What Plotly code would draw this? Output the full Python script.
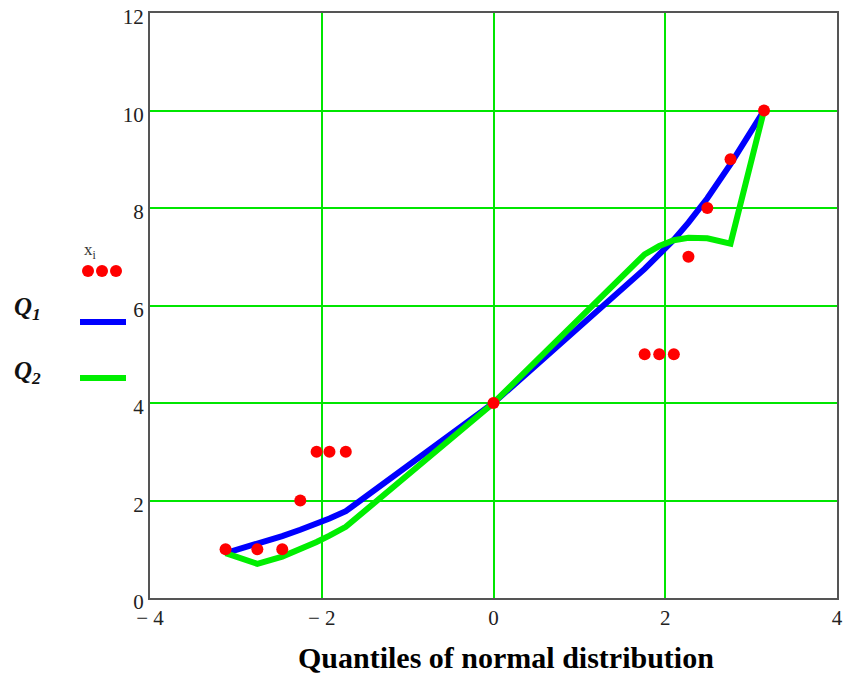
import plotly.graph_objects as go

# Data
xq = [-3.12, -2.75, -2.46, -2.25, -2.06, -1.91, -1.72, 0.0, 1.76, 1.93, 2.10, 2.27, 2.49, 2.76, 3.15]
xi = [1, 1, 1, 2, 3, 3, 3, 4, 5, 5, 5, 7, 8, 9, 10]
q1 = [0.92, 1.10, 1.27, 1.40, 1.52, 1.63, 1.78, 4.0, 6.75, 7.05, 7.35, 7.70, 8.20, 8.90, 10.0]
q2 = [0.92, 0.70, 0.85, 1.00, 1.15, 1.28, 1.46, 4.0, 7.05, 7.22, 7.34, 7.39, 7.38, 7.27, 10.0]

x_ticks = [-4, -2, 0, 2, 4]
x_tick_text = ["\u2212 4", "\u2212 2", "0", "2", "4"]
y_ticks = [0, 2, 4, 6, 8, 10, 12]

GRID = "#00e600"
fig = go.Figure()
fig.add_trace(go.Scatter(x=xq, y=q1, mode="lines", line=dict(color="#0000ff", width=6), name="Q1"))
fig.add_trace(go.Scatter(x=xq, y=q2, mode="lines", line=dict(color="#00ee00", width=6), name="Q2"))
fig.add_trace(go.Scatter(x=xq, y=xi, mode="markers", marker=dict(color="#ff0000", size=12), name="xi"))

# page body adds an 8px margin; figure is sized to compensate
OFF = 8
W, H = 853 - OFF, 679 - OFF
SL, ST, SR, SB = 150, 13, 837, 598  # plot area in screen pixels
L, T = SL - OFF, ST - OFF
R = W - (SR - OFF)
B = H - (SB - OFF)
pw, ph = SR - SL, SB - ST


def px(x):
    return (x - SL) / pw


def py(y):
    return (SB - y) / ph


shapes = []
annotations = []
# legend: red dots
for cx in [88, 102, 116]:
    shapes.append(dict(type="circle", xref="paper", yref="paper",
                       x0=px(cx - 6), x1=px(cx + 6), y0=py(277), y1=py(265),
                       fillcolor="#ff0000", line=dict(width=0)))
shapes.append(dict(type="line", xref="paper", yref="paper", x0=px(80), x1=px(126), y0=py(322), y1=py(322),
                   line=dict(color="#0000ff", width=6)))
shapes.append(dict(type="line", xref="paper", yref="paper", x0=px(80), x1=px(126), y0=py(378), y1=py(378),
                   line=dict(color="#00ee00", width=6)))
annotations.append(dict(xref="paper", yref="paper", x=px(90), y=py(251), text="x<sub>i</sub>", showarrow=False,
                        xanchor="center", yanchor="middle",
                        font=dict(family="Liberation Serif", size=17, color="#333")))
annotations.append(dict(xref="paper", yref="paper", x=px(27), y=py(308), text="<b><i>Q<sub>1</sub></i></b>",
                        showarrow=False, xanchor="center", yanchor="middle",
                        font=dict(family="Liberation Serif", size=25, color="#111")))
annotations.append(dict(xref="paper", yref="paper", x=px(27), y=py(372), text="<b><i>Q<sub>2</sub></i></b>",
                        showarrow=False, xanchor="center", yanchor="middle",
                        font=dict(family="Liberation Serif", size=25, color="#111")))
annotations.append(dict(xref="paper", yref="paper", x=px(506), y=py(657), text="<b>Quantiles of normal distribution</b>",
                        showarrow=False, xanchor="center", yanchor="middle",
                        font=dict(family="Liberation Serif", size=30, color="#000")))

fig.update_layout(
    width=W, height=H,
    margin=dict(l=L, r=R, t=T, b=B, autoexpand=False),
    plot_bgcolor="white", paper_bgcolor="white",
    showlegend=False,
    shapes=shapes, annotations=annotations,
    font=dict(family="Liberation Serif", size=21, color="#222"),
)
fig.update_xaxes(range=[-4, 4], tickvals=x_ticks, ticktext=x_tick_text, showgrid=True, gridcolor=GRID, gridwidth=2,
                 zeroline=False, showline=True, linecolor="#555", linewidth=2, mirror=True, automargin=False,
                 ticklabeloverflow="allow")
fig.update_yaxes(range=[0, 12], tickvals=y_ticks, showgrid=True, gridcolor=GRID, gridwidth=1.5,
                 zeroline=False, showline=True, linecolor="#555", linewidth=2, mirror=True, automargin=False,
                 ticklabeloverflow="allow", ticklabelshift=4)

fig.write_html("out.html")
